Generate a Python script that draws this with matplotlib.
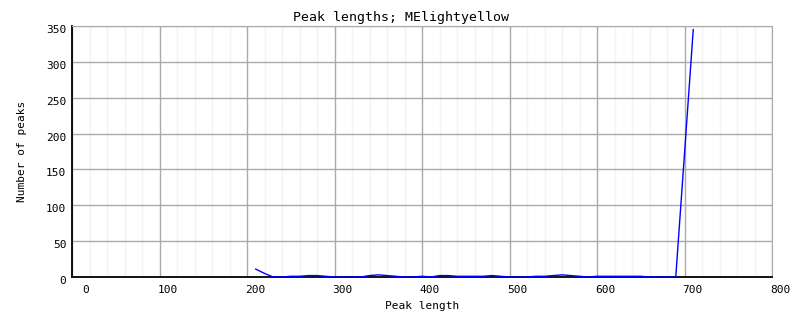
import matplotlib
matplotlib.use("Agg")
import matplotlib.pyplot as plt
import matplotlib.transforms as mtransforms
from matplotlib.ticker import MultipleLocator

# Peak length histogram values
lengths = [210, 220, 230, 240, 250, 260, 270, 280, 290, 300,
           310, 320, 330, 340, 350, 360, 370, 380, 390, 400,
           410, 420, 430, 440, 450, 460, 470, 480, 490, 500,
           510, 520, 530, 540, 550, 560, 570, 580, 590, 600,
           610, 620, 630, 640, 650, 660, 670, 680, 690, 700, 710]
counts = [11, 5, 0, 0, 1, 1, 2, 2, 1, 0,
          0, 0, 0, 2, 3, 2, 1, 0, 0, 1,
          0, 2, 2, 1, 1, 1, 1, 2, 1, 0,
          0, 0, 1, 1, 2, 3, 2, 1, 0, 1,
          1, 1, 1, 1, 1, 0, 0, 0, 0, 172, 345]

title = "Peak lengths; MElightyellow"
xlabel = "Peak length"
ylabel = "Number of peaks"

plt.rcParams["font.family"] = "DejaVu Sans Mono"

fig = plt.figure(figsize=(8.02, 3.28), dpi=100)
ax = fig.add_axes([72 / 802, 51 / 328, 700 / 802, 251 / 328])

ax.plot(lengths, counts, color="#0000ff", linewidth=1.0, zorder=3)

ax.set_xlim(0, 800)
ax.set_ylim(0, 350)
ax.xaxis.set_major_locator(MultipleLocator(100))
ax.xaxis.set_minor_locator(MultipleLocator(20))
ax.yaxis.set_major_locator(MultipleLocator(50))

ax.grid(which="major", color="#aaaaaa", linewidth=1.0)
ax.grid(which="minor", axis="x", color="#f3f3f3", linewidth=1.0)
ax.set_axisbelow(True)

for side in ["top", "right"]:
    ax.spines[side].set_color("#aaaaaa")
for side in ["left", "bottom"]:
    ax.spines[side].set_color("black")
    ax.spines[side].set_linewidth(1.3)

ax.tick_params(which="both", length=0, labelsize=8, colors="black")
ax.tick_params(axis="x", pad=6)
ax.tick_params(axis="y", pad=4)

# x tick labels sit a little to the right of the grid lines
for lab in ax.get_xticklabels():
    dx = 14 if lab.get_position()[0] == 0 else 8
    shift = mtransforms.ScaledTranslation(dx / 100, 0, fig.dpi_scale_trans)
    lab.set_transform(lab.get_transform() + shift)
shift_y = mtransforms.ScaledTranslation(0, -3 / 100, fig.dpi_scale_trans)
for lab in ax.get_yticklabels():
    lab.set_transform(lab.get_transform() + shift_y)

# title is centred on the whole image, not on the plot area
fig.text(0.5, 1 - 17 / 328, title, ha="center", va="center", fontsize=9.5)
ax.set_xlabel(xlabel, fontsize=8, labelpad=4)
ax.set_ylabel(ylabel, fontsize=8, labelpad=14)

fig.savefig("out.png", dpi=100)
